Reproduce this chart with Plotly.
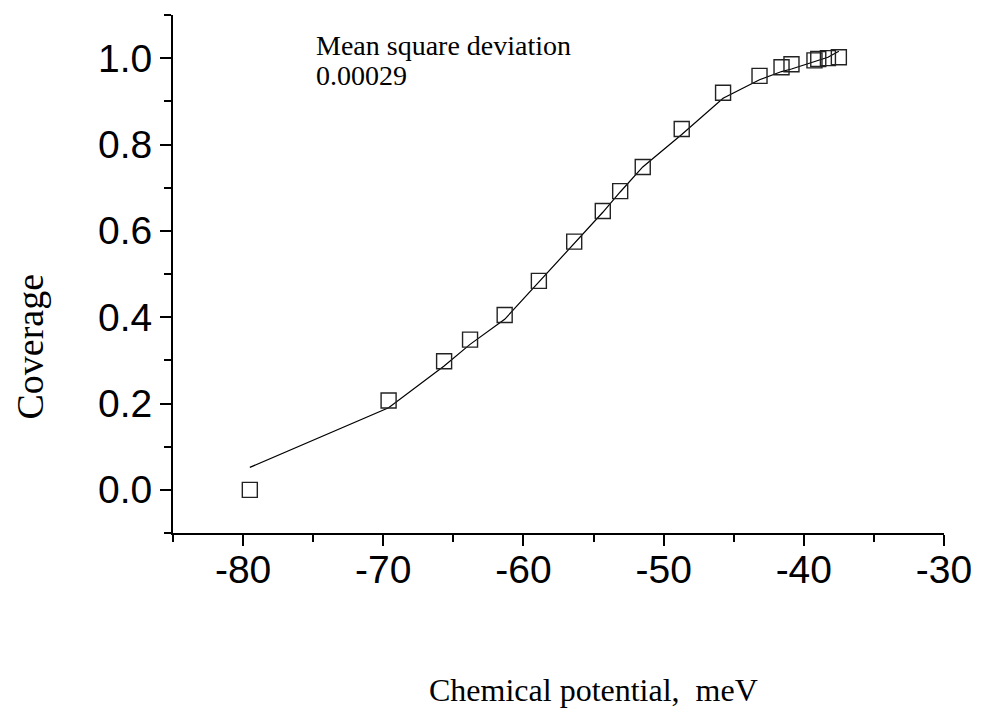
import plotly.graph_objects as go

potential_mev = [-79.52, -69.62, -65.66, -63.81, -61.34, -58.90, -56.38, -54.34,
                 -53.10, -51.49, -48.71, -45.76, -43.16, -41.59, -40.88, -39.24,
                 -38.97, -38.28, -37.50]
coverage = [0.000, 0.207, 0.298, 0.348, 0.405, 0.484, 0.575, 0.646,
            0.692, 0.748, 0.836, 0.920, 0.959, 0.979, 0.986, 0.995,
            0.998, 1.000, 1.002]
# Fitted curve evaluated at the same chemical potentials
coverage_fit = [0.052, 0.190, 0.287, 0.337, 0.395, 0.481, 0.570, 0.643,
                0.690, 0.748, 0.823, 0.907, 0.950, 0.969, 0.975, 0.992,
                0.995, 1.002, 1.016]

x_ticks = [-80, -70, -60, -50, -40, -30]
y_ticks = [0.0, 0.2, 0.4, 0.6, 0.8, 1.0]
msd_label = "Mean square deviation"
msd_value = "0.00029"

fig = go.Figure()
fig.add_trace(go.Scatter(
    x=potential_mev, y=coverage_fit, mode="lines",
    line=dict(color="black", width=1.2), name="fit", showlegend=False,
))
fig.add_trace(go.Scatter(
    x=potential_mev, y=coverage, mode="markers",
    marker=dict(symbol="square-open", size=15, color="#222222",
                line=dict(width=1.4, color="#222222")),
    name="data", showlegend=False,
))

tickfont = dict(family="Liberation Sans, Arial, sans-serif", size=39, color="black")
axis_common = dict(
    showline=True, linecolor="black", linewidth=2,
    ticks="outside", ticklen=11, tickwidth=2, tickcolor="black",
    showgrid=False, zeroline=False, tickfont=tickfont,
)
fig.update_xaxes(
    range=[-85, -30], tickmode="array", tickvals=x_ticks,
    ticktext=[str(v) for v in x_ticks], ticklabelstandoff=-10,
    minor=dict(ticks="outside", dtick=5, tick0=-85, ticklen=7, tickwidth=2,
               tickcolor="black", showgrid=False),
    **axis_common,
)
fig.update_yaxes(
    range=[-0.1, 1.1], tickmode="array", tickvals=y_ticks,
    ticktext=[f"{v:.1f}" for v in y_ticks],
    minor=dict(ticks="outside", dtick=0.1, tick0=-0.1, ticklen=7, tickwidth=2,
               tickcolor="black", showgrid=False),
    **axis_common,
)

serif = "Liberation Serif, Times New Roman, serif"
fig.update_layout(
    width=984, height=715,
    margin=dict(l=173, r=37, t=15, b=182),
    plot_bgcolor="white", paper_bgcolor="white",
    annotations=[
        dict(text=msd_label, x=0.1835, y=0.942, xref="paper", yref="paper",
             xanchor="left", yanchor="middle", showarrow=False,
             font=dict(family=serif, size=28, color="black")),
        dict(text=msd_value, x=0.1835, y=0.884, xref="paper", yref="paper",
             xanchor="left", yanchor="middle", showarrow=False,
             font=dict(family=serif, size=28, color="black")),
        dict(text="Chemical potential,&nbsp;&nbsp;meV", x=0.545, y=-0.303,
             xref="paper", yref="paper", xanchor="center", yanchor="middle",
             showarrow=False, font=dict(family=serif, size=32, color="black")),
        dict(text="Coverage", x=-0.1848, y=0.359, xref="paper", yref="paper",
             xanchor="center", yanchor="middle", textangle=-90,
             showarrow=False, font=dict(family=serif, size=38, color="black")),
    ],
)

fig.write_html("out.html")
